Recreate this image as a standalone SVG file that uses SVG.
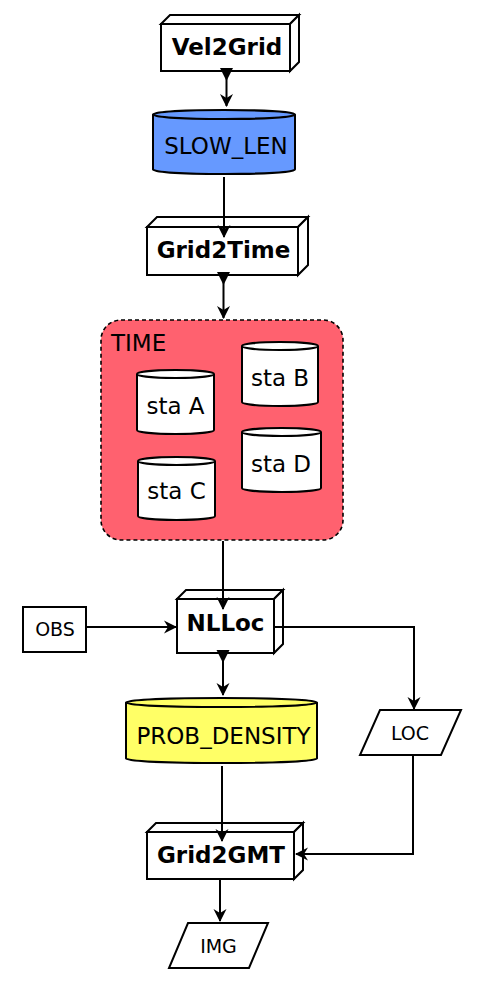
<svg xmlns="http://www.w3.org/2000/svg" width="485" height="992" viewBox="0 0 485 992">
<style>
.s{stroke:#000;stroke-width:2;stroke-linejoin:miter}
.w{fill:#fff}
.t{font-family:"DejaVu Sans",sans-serif;font-size:23px;fill:#000;text-anchor:middle}
.b{font-weight:bold}
.sm{font-size:19px}
.c{fill:none;stroke:#000;stroke-width:2}
</style>
<defs>
<marker id="ah" markerUnits="userSpaceOnUse" markerWidth="14" markerHeight="14" refX="0" refY="0" orient="auto" overflow="visible">
<path d="M1,0 L-12,-6.5 L-8,0 L-12,6.5 Z" fill="#000"/>
</marker>
<marker id="st" markerUnits="userSpaceOnUse" markerWidth="14" markerHeight="14" refX="0" refY="0" orient="auto" overflow="visible">
<path d="M-3,-6.5 L10,0 L-3,6.5 Z" fill="#000"/>
</marker>
</defs>
<rect width="485" height="992" fill="#fff"/>

<g id="Vel2Grid">
<rect class="s w" x="161" y="24" width="129" height="47"/>
<path class="s w" d="M161,24 L170,15 L299,15 L290,24 Z"/>
<path class="s w" d="M290,24 L299,15 L299,62 L290,71 Z"/>
<text class="t b" x="227" y="54.5">Vel2Grid</text>
</g>

<g id="SLOW_LEN">
<path class="s" fill="#6699ff" d="M153,114.5 A71,4.5 0 0 1 295,114.5 V169.5 A71,4.5 0 0 1 153,169.5 Z"/>
<path class="c" d="M153,114.5 A71,4.5 0 0 0 295,114.5"/>
<text class="t" x="226" y="153.5">SLOW_LEN</text>
</g>

<g id="Grid2Time">
<rect class="s w" x="147" y="227" width="151" height="48"/>
<path class="s w" d="M147,227 L157,217 L308,217 L298,227 Z"/>
<path class="s w" d="M298,227 L308,217 L308,265 L298,275 Z"/>
<text class="t b" x="223.5" y="257.5">Grid2Time</text>
</g>

<g id="TIME">
<rect x="101" y="320" width="242" height="220" rx="20" ry="20" fill="#ff616f" stroke="#000" stroke-width="1.6" stroke-dasharray="4,3"/>
<text class="t" x="111" y="350.5" style="text-anchor:start">TIME</text>
</g>

<g id="staA">
<path class="s w" d="M137,374 A38.5,4 0 0 1 214,374 V430 A38.5,4 0 0 1 137,430 Z"/>
<path class="c" d="M137,374 A38.5,4 0 0 0 214,374"/>
<text class="t" x="175.5" y="413.5">sta A</text>
</g>

<g id="staB">
<path class="s w" d="M242,346 A38,4 0 0 1 318,346 V402 A38,4 0 0 1 242,402 Z"/>
<path class="c" d="M242,346 A38,4 0 0 0 318,346"/>
<text class="t" x="280" y="385.5">sta B</text>
</g>

<g id="staC">
<path class="s w" d="M138,461 A38.5,4 0 0 1 215,461 V516 A38.5,4 0 0 1 138,516 Z"/>
<path class="c" d="M138,461 A38.5,4 0 0 0 215,461"/>
<text class="t" x="176.5" y="498.5">sta C</text>
</g>

<g id="staD">
<path class="s w" d="M242,432 A39.5,4 0 0 1 321,432 V488 A39.5,4 0 0 1 242,488 Z"/>
<path class="c" d="M242,432 A39.5,4 0 0 0 321,432"/>
<text class="t" x="281" y="471.5">sta D</text>
</g>

<g id="OBS">
<rect class="s w" x="23" y="607" width="63" height="45"/>
<text class="t sm" x="55" y="635.5">OBS</text>
</g>

<g id="NLLoc">
<rect class="s w" x="177" y="599" width="97" height="54"/>
<path class="s w" d="M177,599 L186,590 L283,590 L274,599 Z"/>
<path class="s w" d="M274,599 L283,590 L283,644 L274,653 Z"/>
<text class="t b" x="225.5" y="630.5">NLLoc</text>
</g>

<g id="LOC">
<path class="s w" d="M380,710 L461,710 L441,755 L360,755 Z"/>
<text class="t sm" x="410" y="739.5">LOC</text>
</g>

<g id="PROB_DENSITY">
<path class="s" fill="#ffff66" d="M126,702.5 A95.5,4.5 0 0 1 317,702.5 V758.5 A95.5,4.5 0 0 1 126,758.5 Z"/>
<path class="c" d="M126,702.5 A95.5,4.5 0 0 0 317,702.5"/>
<text class="t" x="223.5" y="743.5">PROB_DENSITY</text>
</g>

<g id="Grid2GMT">
<rect class="s w" x="147" y="832" width="147" height="47"/>
<path class="s w" d="M147,832 L156,823 L303,823 L294,832 Z"/>
<path class="s w" d="M294,832 L303,823 L303,870 L294,879 Z"/>
<text class="t b" x="221" y="862.5">Grid2GMT</text>
</g>

<g id="IMG">
<path class="s w" d="M188,923 L268,923 L249,968 L169,968 Z"/>
<text class="t sm" x="218.5" y="952.5">IMG</text>
</g>

<g id="connectors">
<path class="c" d="M226.5,71 V106" marker-start="url(#st)" marker-end="url(#ah)"/>
<path class="c" d="M224,177 V237" marker-end="url(#ah)"/>
<path class="c" d="M223.5,275 V318" marker-start="url(#st)" marker-end="url(#ah)"/>
<path class="c" d="M223,541 V609" marker-end="url(#ah)"/>
<path class="c" d="M86,627 H176" marker-end="url(#ah)"/>
<path class="c" d="M274,627 H414 V709" marker-end="url(#ah)"/>
<path class="c" d="M223,653 V695" marker-start="url(#st)" marker-end="url(#ah)"/>
<path class="c" d="M222,766 V841" marker-end="url(#ah)"/>
<path class="c" d="M413,756 V854 H296" marker-end="url(#ah)"/>
<path class="c" d="M220,879 V921" marker-end="url(#ah)"/>
</g>
</svg>
